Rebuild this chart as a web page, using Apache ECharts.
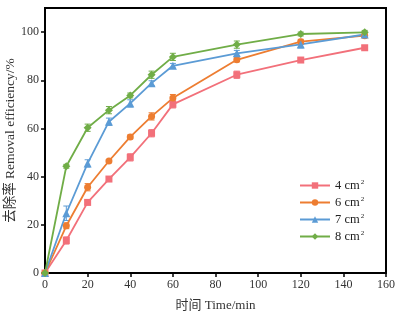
<!DOCTYPE html>
<html>
<head>
<meta charset="utf-8">
<script src="https://cdn.jsdelivr.net/npm/echarts@6/dist/echarts.min.js"></script>
<style>html,body{margin:0;padding:0;background:#fff}#c{width:401px;height:320px}</style>
</head>
<body>
<div id="c"></div>
<script>
var times = [0, 10, 20, 30, 40, 50, 60, 90, 120, 150];
var seriesNames = ['4 cm²', '6 cm²', '7 cm²', '8 cm²'];
var red4 = [0, 13.5, 29.3, 39.0, 48.0, 58.0, 70.0, 82.3, 88.4, 93.5];
var orange6 = [0, 19.6, 35.6, 46.5, 56.5, 65.0, 72.6, 88.5, 96.0, 98.5];
var blue7 = [0, 24.8, 45.5, 62.8, 70.4, 78.8, 86.0, 91.2, 94.9, 99.0];
var green8 = [0, 44.3, 60.3, 67.6, 73.7, 82.3, 89.7, 94.8, 99.2, 99.9];
var err4 = [0, 1.5, 0.8, 0.8, 1.5, 1.5, 1.5, 1.5, 0.8, 0.8];
var err6 = [0, 1.2, 1.5, 0.6, 0.8, 1.5, 1.5, 0.8, 1.0, 0.8];
var err7 = [0, 3.0, 1.5, 1.5, 1.5, 1.0, 1.0, 1.2, 1.5, 0.8];
var err8 = [0, 0.8, 1.5, 1.5, 1.0, 1.5, 1.5, 1.5, 0.8, 0.8];
var yTicks = [0, 20, 40, 60, 80, 100];
var xTicks = [0, 20, 40, 60, 80, 100, 120, 140, 160];

var colors = ['#f2707a', '#ed7d31', '#5b9bd5', '#70ad47'];
var symbols = ['rect', 'circle', 'triangle', 'diamond'];
var sizes = [7, 7, 8, 8];
var values = [red4, orange6, blue7, green8];
var errs = [err4, err6, err7, err8];

function pairs(v) { return times.map(function (t, i) { return [t, v[i]]; }); }
function errData(v, e) { return times.map(function (t, i) { return [t, v[i], e[i]]; }); }

var series = [];
values.forEach(function (v, k) {
  series.push({
    type: 'custom',
    name: 'err' + k,
    data: errData(v, errs[k]),
    z: 1,
    renderItem: function (params, api) {
      var x = api.value(0), y = api.value(1), e = api.value(2);
      if (e <= 0) return null;
      var top = api.coord([x, y + e]);
      var bot = api.coord([x, y - e]);
      var w = 3;
      var st = { stroke: colors[k], lineWidth: 1 };
      return {
        type: 'group',
        children: [
          { type: 'line', shape: { x1: top[0], y1: top[1], x2: bot[0], y2: bot[1] }, style: st },
          { type: 'line', shape: { x1: top[0] - w, y1: top[1], x2: top[0] + w, y2: top[1] }, style: st },
          { type: 'line', shape: { x1: bot[0] - w, y1: bot[1], x2: bot[0] + w, y2: bot[1] }, style: st }
        ]
      };
    }
  });
  series.push({
    type: 'line',
    name: seriesNames[k],
    data: pairs(v),
    symbol: symbols[k],
    symbolSize: sizes[k],
    showAllSymbol: true,
    z: 2,
    lineStyle: { color: colors[k], width: 1.8 },
    itemStyle: { color: colors[k] },
    animation: false
  });
});

var chart = echarts.init(document.getElementById('c'), null, { renderer: 'canvas' });
chart.setOption({
  animation: false,
  backgroundColor: '#fff',
  grid: { left: 45, right: 15, top: 8, bottom: 47, outerBoundsMode: 'none', containLabel: false,
    show: true, borderColor: '#000', borderWidth: 2, backgroundColor: 'transparent' },
  legend: {
    orient: 'vertical',
    left: 294,
    top: 174,
    data: seriesNames,
    itemWidth: 30,
    itemHeight: 8,
    itemGap: 4,
    textStyle: {
      fontFamily: 'Liberation Serif',
      fontSize: 12,
      color: '#222',
      rich: {
        b: { fontFamily: 'Liberation Serif', fontSize: 12.5, color: '#222' },
        sup: { fontFamily: 'Liberation Serif', fontSize: 7, color: '#222', verticalAlign: 'top', padding: [0, 0, 6, 1] }
      }
    },
    formatter: function (n) { return '{b|' + n.replace('²', '') + '}{sup|2}'; }
  },
  xAxis: {
    type: 'value',
    min: 0, max: 160, interval: 20,
    name: '时间 Time/min',
    nameLocation: 'middle',
    nameGap: 26,
    nameMoveOverlap: false,
    nameTextStyle: { fontFamily: 'Liberation Serif, Noto Sans CJK SC', fontSize: 13, color: '#333' },
    axisLine: { show: true, lineStyle: { color: '#000', width: 2 } },
    axisTick: { show: true, inside: false, length: 4, lineStyle: { color: '#000', width: 1.5 } },
    axisLabel: { fontFamily: 'Liberation Serif', fontSize: 12, color: '#333', margin: 6 },
    splitLine: { show: false }
  },
  yAxis: {
    type: 'value',
    min: 0, max: 110, interval: 20,
    name: '去除率 Removal efficiency/%',
    nameLocation: 'middle',
    nameGap: 28,
    nameMoveOverlap: false,
    nameTextStyle: { fontFamily: 'Liberation Serif, Noto Sans CJK SC', fontSize: 13.5, color: '#333' },
    axisLine: { show: true, lineStyle: { color: '#000', width: 2 } },
    axisTick: { show: true, inside: false, length: 4, lineStyle: { color: '#000', width: 1.5 } },
    axisLabel: { fontFamily: 'Liberation Serif', fontSize: 12, color: '#333', margin: 6, showMaxLabel: false,
      formatter: function (v) { return yTicks.indexOf(v) >= 0 ? String(v) : ''; } },
    splitLine: { show: false }
  },
  series: series
});
</script>
</body>
</html>
